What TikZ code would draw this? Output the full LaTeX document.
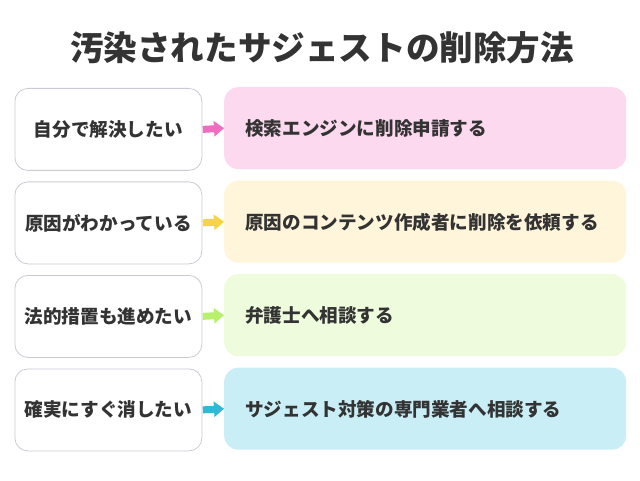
\documentclass[tikz,border=0pt]{standalone}
\usepackage{fontspec}
\setmainfont{Noto Sans CJK JP}
\usetikzlibrary{arrows.meta}
\definecolor{txt}{HTML}{333333}
\definecolor{pinkF}{HTML}{FCD9EF}\definecolor{pinkA}{HTML}{F06CC0}
\definecolor{yelF}{HTML}{FEF5DA}\definecolor{yelA}{HTML}{F7D34C}
\definecolor{grnF}{HTML}{EEFBDC}\definecolor{grnA}{HTML}{B6F06C}
\definecolor{bluF}{HTML}{C9EEF6}\definecolor{bluA}{HTML}{2CBAD6}
\definecolor{bord}{HTML}{CACAD4}
\tikzset{
 leftbox/.style={draw=bord, line width=0.8pt, fill=white, rounded corners=13pt, minimum width=187pt, minimum height=82pt, anchor=north west, inner sep=0pt, text=txt, font=\bfseries\fontsize{18.6}{21}\selectfont},
 rightbox/.style={rounded corners=14pt, minimum width=402pt, minimum height=82pt, anchor=north west, inner sep=0pt},
 lbl/.style={anchor=west, text=txt, inner sep=0pt, font=\bfseries\fontsize{18.6}{21}\selectfont},
 conn/.style={line width=7pt, -{Triangle[length=10pt,width=15pt]}, shorten <=0.5pt}
}
\begin{document}
\begin{tikzpicture}[x=1pt,y=1pt]
\useasboundingbox (0,0) rectangle (640,480);
\node[text=txt, font=\bfseries\fontsize{33.6}{38}\selectfont] (title) at (322,432) {汚染されたサジェストの削除方法};
% row 1
\node[leftbox] (l1) at (14.5,392) {自分で解決したい};
\node[rightbox, fill=pinkF] (r1) at (224,393) {};
\node[lbl] (t1) at (245,351.5) {検索エンジンに削除申請する};
\draw[conn, pinkA] (l1.east) -- (r1.west);
% row 2
\node[leftbox] (l2) at (14.5,298.5) {原因がわかっている};
\node[rightbox, fill=yelF] (r2) at (224,299.5) {};
\node[lbl] (t2) at (245,258) {原因のコンテンツ作成者に削除を依頼する};
\draw[conn, yelA] (l2.east) -- (r2.west);
% row 3
\node[leftbox] (l3) at (14.5,205) {法的措置も進めたい};
\node[rightbox, fill=grnF] (r3) at (224,206) {};
\node[lbl] (t3) at (245,164.5) {弁護士へ相談する};
\draw[conn, grnA] (l3.east) -- (r3.west);
% row 4
\node[leftbox] (l4) at (14.5,111.5) {確実にすぐ消したい};
\node[rightbox, fill=bluF] (r4) at (224,112.5) {};
\node[lbl] (t4) at (245,71) {サジェスト対策の専門業者へ相談する};
\draw[conn, bluA] (l4.east) -- (r4.west);
\end{tikzpicture}
\end{document}
